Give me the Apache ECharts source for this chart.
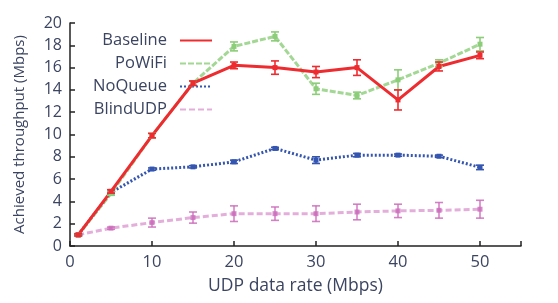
<!DOCTYPE html>
<html><head><meta charset="utf-8">
<script src="https://cdn.jsdelivr.net/npm/echarts@6/dist/echarts.min.js"></script>
<style>html,body{margin:0;padding:0;background:#fff}#c{width:558px;height:303px}</style>
</head><body><div id="c"></div>
<script>
var xRates = [1, 5, 10, 15, 20, 25, 30, 35, 40, 45, 50];
var baseline = [1.0, 4.9, 9.9, 14.6, 16.2, 16.0, 15.6, 16.0, 13.1, 16.1, 17.1];
var baselineErr = [0.1, 0.15, 0.2, 0.2, 0.3, 0.6, 0.5, 0.7, 0.9, 0.4, 0.3];
var powifi = [1.0, 4.7, 9.9, 14.6, 17.9, 18.8, 14.1, 13.5, 14.9, 16.4, 18.1];
var powifiErr = [0.1, 0.15, 0.2, 0.2, 0.4, 0.4, 0.5, 0.3, 0.9, 0.3, 0.6];
var noqueue = [1.0, 4.8, 6.9, 7.1, 7.55, 8.75, 7.7, 8.15, 8.15, 8.05, 7.05];
var noqueueErr = [0.05, 0.1, 0.1, 0.1, 0.15, 0.1, 0.3, 0.15, 0.1, 0.1, 0.2];
var blindudp = [1.0, 1.6, 2.1, 2.55, 2.9, 2.9, 2.9, 3.05, 3.15, 3.2, 3.3];
var blindudpErr = [0.05, 0.1, 0.4, 0.5, 0.7, 0.6, 0.7, 0.7, 0.6, 0.7, 0.8];
var names = ['Baseline', 'PoWiFi', 'NoQueue', 'BlindUDP'];
var xTicks = [0, 10, 20, 30, 40, 50];

var font = '"Open Sans", "DejaVu Sans", sans-serif';
var textColor = '#3b4461';
var colors = ['#ee2b2f', '#8ccd79', '#3455b0', '#cc6cbb'];
var vals = [baseline, powifi, noqueue, blindudp];
var errs = [baselineErr, powifiErr, noqueueErr, blindudpErr];
var styles = [
  {type: 'solid', width: 3, opacity: 1},
  {type: [6, 2], width: 3, opacity: 0.8},
  {type: [2, 2], width: 3, opacity: 1},
  {type: [6, 3], width: 3, opacity: 0.55}
];

function pairs(v) { return xRates.map(function (x, i) { return [x, v[i]]; }); }

var series = [];
for (var k = 3; k >= 0; k--) {
  series.push({
    name: names[k], type: 'line', data: pairs(vals[k]), symbol: 'none',
    z: 10 - k,
    lineStyle: {color: colors[k], width: styles[k].width, type: styles[k].type, opacity: styles[k].opacity},
    itemStyle: {color: colors[k]}
  });
}
for (var k2 = 0; k2 < 4; k2++) {
  (function (k) {
    series.push({
      type: 'custom', z: 20 - k, silent: true,
      data: xRates.map(function (x, i) { return [x, vals[k][i], errs[k][i]]; }),
      encode: {x: 0, y: 1},
      renderItem: function (params, api) {
        var x = api.value(0), y = api.value(1), e = api.value(2);
        var p = api.coord([x, y]);
        var hi = api.coord([x, y + e]);
        var lo = api.coord([x, y - e]);
        var w = 4;
        var st = {stroke: colors[k], lineWidth: 1.6, opacity: k === 3 ? 0.85 : 1};
        return {type: 'group', children: [
          {type: 'line', shape: {x1: p[0], y1: hi[1], x2: p[0], y2: lo[1]}, style: st},
          {type: 'line', shape: {x1: p[0] - w, y1: hi[1], x2: p[0] + w, y2: hi[1]}, style: st},
          {type: 'line', shape: {x1: p[0] - w, y1: lo[1], x2: p[0] + w, y2: lo[1]}, style: st},
          {type: 'rect', shape: {x: p[0] - 2.5, y: p[1] - 2.5, width: 5, height: 5}, style: {fill: colors[k], opacity: k === 3 ? 0.8 : 1}}
        ]};
      }
    });
  })(k2);
}

var chart = echarts.init(document.getElementById('c'));
chart.setOption({
  animation: false,
  grid: {left: 70, right: 37, top: 23, bottom: 57},
  legend: {
    data: names, orient: 'vertical', left: 74, top: 27, align: 'right',
    itemWidth: 32, itemHeight: 12, itemGap: 6,
    itemStyle: {opacity: 0},
    formatter: function (n) { return '{a|' + n + '}'; },
    textStyle: {fontFamily: font, fontSize: 16.5, color: textColor,
      rich: {a: {width: 88, align: 'right', lineHeight: 20, fontFamily: font, fontSize: 16.5, color: textColor, padding: [0, 8, 0, 0]}}}
  },
  xAxis: {
    type: 'value', min: 0, max: 55, interval: 10,
    name: 'UDP data rate (Mbps)', nameLocation: 'middle', nameGap: 31,
    nameTextStyle: {fontFamily: font, fontSize: 17.5, color: textColor},
    axisLine: {show: true, lineStyle: {color: '#222', width: 1.5}},
    axisTick: {show: true, inside: true, length: 5, lineStyle: {color: '#222', width: 1.5}},
    axisLabel: {fontFamily: font, fontSize: 16.5, color: textColor, margin: 8,
      formatter: function (v) { return xTicks.indexOf(v) >= 0 ? String(v) : ''; }},
    splitLine: {show: false}
  },
  yAxis: {
    type: 'value', min: 0, max: 20, interval: 2,
    name: 'Achieved throughput (Mbps)', nameLocation: 'middle', nameGap: 43, nameRotate: 90,
    nameTextStyle: {fontFamily: font, fontSize: 15, color: textColor},
    axisLine: {show: true, lineStyle: {color: '#222', width: 1.5}},
    axisTick: {show: true, inside: true, length: 5, lineStyle: {color: '#222', width: 1.5}},
    axisLabel: {fontFamily: font, fontSize: 16, color: textColor, margin: 8},
    splitLine: {show: false}
  },
  series: series
});
</script></body></html>
